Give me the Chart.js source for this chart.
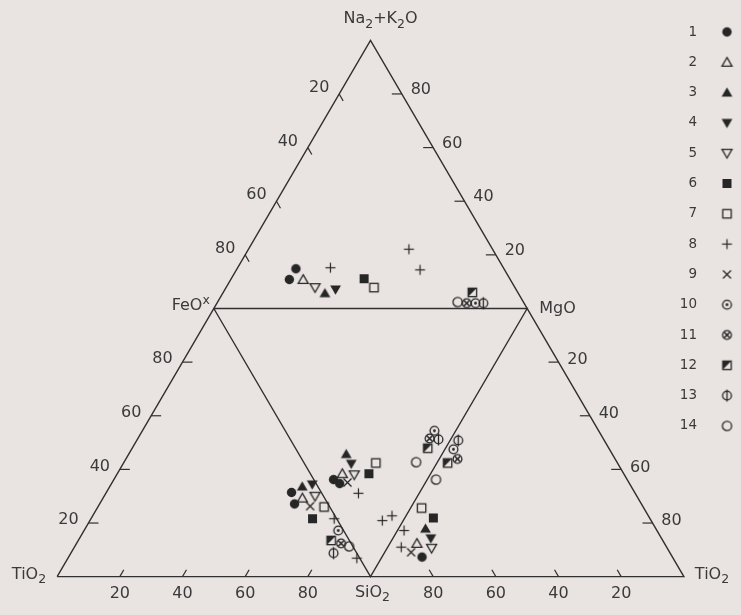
<!DOCTYPE html>
<html>
<head>
<meta charset="utf-8">
<script src="https://cdn.jsdelivr.net/npm/chart.js@4/dist/chart.umd.min.js"></script>
<style>
  html, body { margin: 0; padding: 0; background: #e9e4e2; }
  #wrap { width: 741px; height: 615px; }
</style>
</head>
<body>
<div id="wrap"><canvas id="c" width="741" height="615"></canvas></div>
<script>
// ---- Data -------------------------------------------------------------
// Sample groups 1–14 and their symbols
const groupNames   = ['1', '2', '3', '4', '5', '6', '7', '8', '9', '10', '11', '12', '13', '14'];
const groupSymbols = ['dot', 'tri', 'triF', 'triDF', 'triD', 'sqF', 'sq', 'plus', 'cross', 'cdot', 'cstar', 'sqHalf', 'phi', 'circ'];

// Upper diagram: Na2O+K2O – FeO* – MgO (Na2O+K2O = 100 − FeO − MgO)
const topGroup = [1, 1, 2, 5, 3, 4, 8, 6, 7, 8, 8, 14, 11, 10, 13, 12];
const topFeO   = [66.4, 70.5, 66.1, 63.8, 61.7, 57.6, 55.2, 46.5, 45.0, 26.7, 27.0, 21.0, 18.3, 15.5, 13.0, 14.5];
const topMgO   = [18.8, 18.7, 23.1, 28.4, 32.6, 35.3, 29.6, 42.4, 47.2, 51.2, 58.6, 76.6, 79.7, 82.5, 85.0, 79.5];

// Central diagram: FeO* – MgO – SiO2 (SiO2 = 100 − FeO − MgO)
const midGroup = [3, 4, 7, 6, 2, 5, 1, 1, 9, 8, 8, 8, 10, 11, 13, 12, 14];
const midFeO   = [30.6, 27.2, 19.5, 19.7, 28.2, 24.2, 29.9, 27.2, 24.9, 19.4, 6.7, 4.5, 6.8, 6.9, 3.9, 5.7, 6.8];
const midMgO   = [15.1, 14.9, 22.9, 18.7, 10.2, 13.8, 6.3, 7.5, 10.2, 11.7, 14.2, 18.2, 47.6, 44.6, 47.3, 42.2, 35.9];

// Left diagram: FeO* – TiO2 – SiO2 (TiO2 = 100 − FeO − SiO2)
const leftGroup = [1, 3, 4, 2, 5, 1, 9, 7, 6, 8, 10, 12, 11, 14, 13, 8];
const leftFeO   = [31.4, 33.6, 34.4, 29.3, 30.0, 27.1, 26.3, 26.0, 21.6, 21.6, 17.2, 13.5, 12.4, 11.3, 8.8, 6.9];
const leftSiO2  = [59.1, 61.4, 64.2, 63.6, 67.3, 62.2, 67.6, 72.2, 70.7, 77.6, 81.1, 80.7, 84.4, 87.5, 83.8, 92.2];

// Right diagram: MgO – SiO2 – TiO2 (SiO2 = 100 − MgO − TiO2)
const rightGroup = [13, 10, 11, 12, 14, 7, 6, 3, 4, 2, 5, 1, 9, 8, 8];
const rightMgO   = [50.8, 47.5, 43.9, 42.4, 36.2, 25.6, 21.9, 17.9, 14.3, 12.4, 10.6, 7.3, 9.1, 11.0, 17.2];
const rightTiO2  = [2.6, 2.7, 5.8, 3.4, 2.8, 3.5, 9.1, 8.6, 12.1, 8.6, 14.2, 12.8, 8.4, 4.3, 2.1];

// Scale graduations along the triangle sides
const tickValues = [20, 40, 60, 80];

// ---- Geometry ---------------------------------------------------------
// Corners of the large triangle and side midpoints in plot units
const V = {
  L: [0, 0], R: [100, 0], T: [50, 86.6],
  F: [25, 43.3], M: [75, 43.3], S: [50, 0]
};
function mix(w) {
  let x = 0, y = 0;
  for (const k in w) { x += w[k] * V[k][0]; y += w[k] * V[k][1]; }
  return { x: x / 100, y: y / 100 };
}
const toTop   = (fe, mg) => mix({ F: fe, M: mg, T: 100 - fe - mg });
const toMid   = (fe, mg) => mix({ F: fe, M: mg, S: 100 - fe - mg });
const toLeft  = (fe, si) => mix({ F: fe, S: si, L: 100 - fe - si });
const toRight = (mg, ti) => mix({ M: mg, R: ti, S: 100 - mg - ti });

// ---- Symbols ----------------------------------------------------------
const INK = '#262626';
function makeSymbol(kind) {
  const size = 15, m = size / 2;
  const c = document.createElement('canvas');
  c.width = size; c.height = size;
  const g = c.getContext('2d');
  g.strokeStyle = INK; g.fillStyle = INK; g.lineWidth = 1.3;
  const circle = r => { g.beginPath(); g.arc(m, m, r, 0, Math.PI * 2); };
  const poly = pts => { g.beginPath(); g.moveTo(pts[0][0], pts[0][1]); for (const p of pts.slice(1)) g.lineTo(p[0], p[1]); g.closePath(); };
  const line = (a, b, cc, d) => { g.beginPath(); g.moveTo(a, b); g.lineTo(cc, d); g.stroke(); };
  switch (kind) {
    case 'dot':   circle(4.7); g.fill(); break;
    case 'tri':   poly([[m, m - 4.8], [m + 5, m + 3.8], [m - 5, m + 3.8]]); g.stroke(); break;
    case 'triF':  poly([[m, m - 5.2], [m + 5.4, m + 4], [m - 5.4, m + 4]]); g.fill(); break;
    case 'triDF': poly([[m - 5.4, m - 4], [m + 5.4, m - 4], [m, m + 5.2]]); g.fill(); break;
    case 'triD':  poly([[m - 5, m - 3.8], [m + 5, m - 3.8], [m, m + 4.8]]); g.stroke(); break;
    case 'sqF':   g.fillRect(m - 4.5, m - 4.5, 9, 9); break;
    case 'sq':    g.strokeRect(m - 4.2, m - 4.2, 8.4, 8.4); break;
    case 'plus':  g.lineWidth = 1.2; line(m - 5, m, m + 5, m); line(m, m - 5, m, m + 5); break;
    case 'cross': g.lineWidth = 1.2; line(m - 4, m - 4, m + 4, m + 4); line(m - 4, m + 4, m + 4, m - 4); break;
    case 'cdot':  circle(4.4); g.stroke(); circle(1.4); g.fill(); break;
    case 'cstar': circle(4.4); g.stroke(); g.lineWidth = 1.6;
                  line(m - 3, m - 3, m + 3, m + 3); line(m - 3, m + 3, m + 3, m - 3); break;
    case 'sqHalf': g.strokeRect(m - 4.2, m - 4.2, 8.4, 8.4);
                  poly([[m - 4.2, m - 4.2], [m + 4.2, m - 4.2], [m - 4.2, m + 4.2]]); g.fill(); break;
    case 'phi':   circle(4.4); g.stroke(); line(m, m - 6, m, m + 6); break;
    case 'circ':  circle(4.6); g.stroke(); break;
  }
  return c;
}
const symbolImages = groupSymbols.map(makeSymbol);

// ---- Datasets ---------------------------------------------------------
const pointsByGroup = groupNames.map(() => []);
topGroup.forEach((g, i) => pointsByGroup[g - 1].push(toTop(topFeO[i], topMgO[i])));
midGroup.forEach((g, i) => pointsByGroup[g - 1].push(toMid(midFeO[i], midMgO[i])));
leftGroup.forEach((g, i) => pointsByGroup[g - 1].push(toLeft(leftFeO[i], leftSiO2[i])));
rightGroup.forEach((g, i) => pointsByGroup[g - 1].push(toRight(rightMgO[i], rightTiO2[i])));

const P = k => ({ x: V[k][0], y: V[k][1] });
const frameStyle = { type: 'scatter', showLine: true, borderColor: '#303030', borderWidth: 1.4,
                     pointRadius: 0, fill: false, order: 100, tension: 0 };
const datasets = [
  Object.assign({ label: 'outer', data: [P('L'), P('R'), P('T'), P('L')] }, frameStyle),
  Object.assign({ label: 'inner', data: [P('F'), P('M'), P('S'), P('F')] }, frameStyle)
];
groupNames.forEach((name, i) => {
  datasets.push({
    label: name, data: pointsByGroup[i], pointStyle: symbolImages[i],
    pointRadius: 5, showLine: false, order: 0
  });
});

// ---- Sides, graduations, corner names and key -------------------------
const FONT = '"DejaVu Sans", sans-serif';

// Writes a formula with lowered (1) or raised (-1) parts
function drawFormula(ctx, parts, x, y, align) {
  const big = '16px ' + FONT, small = '12.5px ' + FONT;
  let width = 0;
  for (const [t, s] of parts) { ctx.font = s ? small : big; width += ctx.measureText(t).width; }
  let cx = align === 'center' ? x - width / 2 : align === 'right' ? x - width : x;
  ctx.textAlign = 'left';
  for (const [t, s] of parts) {
    ctx.font = s ? small : big;
    ctx.fillText(t, cx, y + (s === 1 ? 5 : s === -1 ? -5 : 0));
    cx += ctx.measureText(t).width;
  }
}

const decorations = {
  id: 'ternaryDecorations',
  afterDatasetsDraw(chart) {
    const { ctx, scales: { x, y } } = chart;
    const pix = p => [x.getPixelForValue(p.x), y.getPixelForValue(p.y)];
    ctx.save();
    ctx.strokeStyle = '#303030';
    ctx.fillStyle = '#3a3a3a';
    ctx.lineWidth = 1.2;
    ctx.font = '16px ' + FONT;
    ctx.textAlign = 'center';
    ctx.textBaseline = 'middle';

    const sides = [
      { at: v => mix({ T: 100 - v, F: v }), dir: [0.5, 0.87], len: 8,  off: [-20, -6] },
      { at: v => mix({ T: v, M: 100 - v }), dir: [-1, 0],     len: 10, off: [19, -4] },
      { at: v => mix({ F: v, L: 100 - v }), dir: [1, 0],      len: 10, off: [-20, -3] },
      { at: v => mix({ R: v, M: 100 - v }), dir: [-1, 0],     len: 10, off: [19, -2] },
      { at: v => mix({ S: v, L: 100 - v }), dir: [0.5, -0.87], len: 8, off: [0, 17] },
      { at: v => mix({ S: v, R: 100 - v }), dir: [-0.5, -0.87], len: 8, off: [0, 17] }
    ];
    for (const s of sides) {
      for (const v of tickValues) {
        const [px, py] = pix(s.at(v));
        ctx.beginPath();
        ctx.moveTo(px, py);
        ctx.lineTo(px + s.dir[0] * s.len, py + s.dir[1] * s.len);
        ctx.stroke();
        ctx.fillText(String(v), px + s.off[0], py + s.off[1]);
      }
    }

    // corner names
    const [tx, ty] = pix(P('T'));
    const [fx, fy] = pix(P('F'));
    const [mx, my] = pix(P('M'));
    const [sx, sy] = pix(P('S'));
    const [lx, ly] = pix(P('L'));
    const [rx, ry] = pix(P('R'));
    drawFormula(ctx, [['Na', 0], ['2', 1], ['+K', 0], ['2', 1], ['O', 0]], tx + 10, ty - 21, 'center');
    drawFormula(ctx, [['SiO', 0], ['2', 1]], sx + 2, sy + 16, 'center');
    drawFormula(ctx, [['FeO', 0], ['x', -1]], fx - 4, fy - 3, 'right');
    drawFormula(ctx, [['TiO', 0], ['2', 1]], lx - 11, ly - 2, 'right');
    drawFormula(ctx, [['TiO', 0], ['2', 1]], rx + 11, ry - 2, 'left');
    drawFormula(ctx, [['MgO', 0]], mx + 12, my, 'left');

    // key
    ctx.font = '13.5px ' + FONT;
    ctx.textAlign = 'right';
    groupNames.forEach((name, i) => {
      const ky = 32 + i * 30.3;
      ctx.fillText(name, 697, ky);
      const img = symbolImages[i];
      ctx.drawImage(img, 727 - img.width / 2, ky - img.height / 2);
    });
    ctx.restore();
  }
};

new Chart(document.getElementById('c'), {
  type: 'scatter',
  data: { datasets },
  options: {
    responsive: false,
    animation: false,
    events: [],
    layout: { padding: 0 },
    plugins: { legend: { display: false }, tooltip: { enabled: false }, title: { display: false } },
    scales: {
      x: { type: 'linear', min: -8.16, max: 108.16, display: false },
      y: { type: 'linear', min: -5.22, max: 92.14, display: false }
    }
  },
  plugins: [decorations]
});
</script>
</body>
</html>
